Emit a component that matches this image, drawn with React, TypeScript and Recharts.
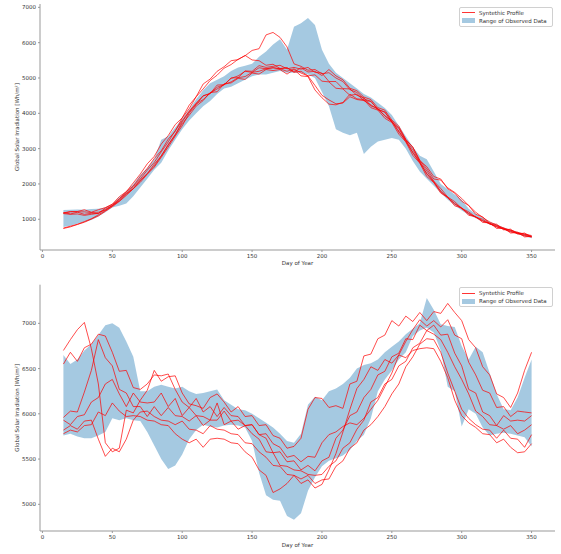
import React from "react";
import { Area, ComposedChart, Legend, Line, XAxis, YAxis } from "recharts";

const FONT = "DejaVu Sans";

const DAYS = [
  15, 20, 25, 30, 35, 40, 45, 50, 55, 60, 65, 70, 75, 80, 85, 90, 95, 100, 105, 110,
  115, 120, 125, 130, 135, 140, 145, 150, 155, 160, 165, 170, 175, 180, 185, 190, 195, 200, 205, 210,
  215, 220, 225, 230, 235, 240, 245, 250, 255, 260, 265, 270, 275, 280, 285, 290, 295, 300, 305, 310,
  315, 320, 325, 330, 335, 340, 345, 350,
];
const X_TICKS = [0, 50, 100, 150, 200, 250, 300, 350];

// top panel: observed min / max
const TOP_LO = [
  780, 820, 870, 920, 980, 1080, 1200, 1330, 1380, 1450, 1650, 1900, 2150, 2400, 2600, 2950, 3250, 3550, 3800, 4000,
  4200, 4350, 4550, 4700, 4750, 4850, 4950, 5050, 5100, 5100, 5150, 5200, 5150, 5150, 5150, 5100, 5000, 4600, 4200, 3550,
  3450, 3380, 3450, 2850, 3050, 3200, 3250, 3300, 3250, 3000, 2650, 2350, 2150, 1950, 1750, 1550, 1400, 1250, 1130, 1030,
  940, 850, 780, 710, 640, 580, 520, 460,
];
const TOP_HI = [
  1260, 1270, 1280, 1270, 1290, 1300, 1330, 1420, 1620, 1780, 2000, 2250, 2450, 2700, 3250, 3350, 3600, 3850, 4100, 4400,
  4650, 4850, 4950, 5050, 5200, 5300, 5350, 5400, 5600, 5750, 5950, 6100, 5800, 6450, 6550, 6700, 6500, 5800, 5400, 5150,
  5000, 4850, 4700, 4550, 4450, 4300, 4150, 3950, 3650, 3350, 3050, 2800, 2700, 2350, 2000, 1850, 1700, 1550, 1300, 1150,
  1040, 930, 850, 770, 700, 640, 580, 540,
];
// top panel: synthetic profiles
const TOP_S1 = [
  1170, 1210, 1220, 1270, 1200, 1270, 1330, 1420, 1580, 1790, 1940, 2210, 2440, 2720, 2940, 3270, 3490, 3870, 4130, 4470,
  4690, 4930, 5080, 5280, 5380, 5530, 5630, 5780, 5830, 6220, 6290, 6150, 5880, 5400, 5330, 5220, 5240, 5120, 5150, 5000,
  4900, 4670, 4590, 4410, 4340, 4110, 4030, 3770, 3570, 3230, 2970, 2630, 2370, 2080, 1870, 1630, 1500, 1310, 1210, 1060,
  1000, 870, 820, 730, 690, 610, 580, 510,
];
const TOP_S2 = [
  1190, 1150, 1200, 1140, 1170, 1160, 1320, 1430, 1640, 1780, 2030, 2280, 2570, 2780, 3130, 3370, 3680, 3870, 4230, 4470,
  4830, 4970, 5190, 5320, 5490, 5520, 5640, 5510, 5490, 5360, 5390, 5270, 5290, 5170, 5290, 5170, 5190, 5070, 5240, 5060,
  4950, 4710, 4640, 4460, 4390, 4160, 4090, 3810, 3640, 3260, 3040, 2670, 2430, 2140, 2110, 1890, 1760, 1590, 1390, 1200,
  1050, 925, 835, 755, 690, 630, 580, 540,
];
const TOP_S3 = [
  1180, 1220, 1210, 1210, 1190, 1200, 1260, 1380, 1540, 1730, 1870, 2110, 2290, 2560, 2790, 3110, 3390, 3760, 4040, 4270,
  4390, 4570, 4690, 4810, 4890, 5010, 5040, 5160, 5190, 5260, 5290, 5260, 5190, 5260, 5140, 5060, 4790, 4510, 4380, 4270,
  4290, 4470, 4390, 4360, 4240, 4110, 3940, 3760, 3500, 3200, 2900, 2600, 2300, 2050, 1800, 1600, 1450, 1300, 1170, 1060,
  960, 870, 790, 720, 660, 600, 550, 500,
];
const TOP_S4 = [
  1160, 1140, 1150, 1110, 1140, 1170, 1280, 1390, 1570, 1740, 1930, 2140, 2390, 2610, 2910, 3190, 3510, 3790, 4060, 4290,
  4500, 4560, 4800, 4810, 5000, 5010, 5200, 5190, 5350, 5300, 5330, 5360, 5260, 5300, 5250, 5300, 5160, 5140, 4900, 4900,
  4700, 4690, 4510, 4440, 4210, 4140, 3920, 3780, 3470, 3230, 2880, 2620, 2280, 2070, 1780, 1620, 1430, 1320, 1150, 1060,
  950, 880, 780, 730, 640, 600, 530, 500,
];
const TOP_S5 = [
  750, 805, 855, 935, 1015, 1125, 1245, 1385, 1515, 1705, 1865, 2085, 2295, 2505, 2795, 3105, 3395, 3705, 3945, 4205,
  4360, 4590, 4610, 4840, 4860, 4990, 4960, 5140, 5110, 5240, 5210, 5240, 5110, 5240, 5060, 5040, 4660, 4440, 4260, 4240,
  4310, 4540, 4410, 4390, 4160, 4090, 3860, 3740, 3410, 3190, 2810, 2590, 2210, 2040, 1740, 1620, 1380, 1320, 1110, 1080,
  910, 900, 740, 750, 610, 630, 500, 520,
];
const TOP_S6 = [
  740, 785, 855, 915, 1005, 1095, 1225, 1355, 1505, 1675, 1865, 2045, 2275, 2475, 2755, 3045, 3355, 3645, 4005, 4245,
  4490, 4560, 4740, 4810, 4990, 5060, 5190, 5160, 5290, 5260, 5290, 5260, 5290, 5160, 5190, 5060, 5090, 4910, 4890, 4710,
  4690, 4510, 4540, 4360, 4340, 4110, 4040, 3760, 3590, 3260, 3040, 2660, 2490, 2210, 2140, 1860, 1740, 1510, 1390, 1140,
  1070, 870, 860, 700, 720, 580, 610, 500,
];

// bottom panel: observed min / max
const BOT_LO = [
  5760, 5780, 5750, 5730, 5730, 5760, 5800, 5950, 5930, 5950, 5930, 5920, 5800, 5650, 5500, 5390, 5430, 5550, 5720, 5820,
  5880, 5860, 5850, 5870, 5880, 5870, 5850, 5700, 5350, 5100, 5050, 5040, 4870, 4830, 4900, 5150, 5300, 5420, 5480, 5510,
  5540, 5600, 5700, 5770, 5950, 6250, 6380, 6480, 6600, 6680, 6860, 6920, 6950, 6900, 6700, 6300, 6250, 5860, 6050, 6000,
  5850, 5760, 5780, 5790, 5780, 5760, 5740, 5640,
];
const BOT_HI = [
  6650, 6550, 6600, 6700, 6770, 6870, 6980, 7000, 6950, 6800, 6630, 6250, 6250, 6300, 6320, 6300, 6280, 6300, 6250, 6220,
  6230, 6250, 6270, 6150, 6100, 6050, 6040, 6000, 5950, 5900, 5850, 5780, 5700, 5680, 5780, 6100, 6190, 6150, 6250, 6280,
  6330, 6400, 6500, 6540, 6560, 6600, 6680, 6740, 6800, 6880, 6940, 7000, 7280, 7150, 6990, 6970, 6960, 6750, 6600, 6740,
  6680, 6450, 6220, 6050, 6040, 6180, 6400, 6600,
];
// bottom panel: synthetic profiles
const BOT_S1 = [
  6700, 6820, 6930, 7010, 6720, 6330, 5680, 5580, 5620, 6040, 6010, 6150, 6260, 6480, 6360, 6410, 6420, 6230, 6110, 6090,
  6060, 6180, 6220, 6130, 6020, 6080, 5970, 5980, 5870, 5880, 5760, 5730, 5620, 5640, 5730, 6050, 6180, 6170, 6070, 6090,
  6060, 6330, 6360, 6640, 6660, 6830, 6870, 7030, 6970, 7080, 7020, 7120, 7030, 7130, 7110, 7220, 7120, 7030, 6820, 6730,
  6520, 6430, 6220, 6180, 6070, 6230, 6480, 6680,
];
const BOT_S2 = [
  6550, 6680, 6580, 6730, 6770, 6880, 6860, 6680, 6470, 6480, 6290, 6270, 6330, 6430, 6420, 6440, 6270, 6130, 6070, 6170,
  6020, 6080, 5970, 6070, 5980, 5970, 5870, 5880, 5770, 5780, 5670, 5630, 5520, 5540, 5470, 5530, 5520, 5680, 5770, 5800,
  5860, 5900, 5880, 5950, 6050, 6150, 6300, 6450, 6650, 6800, 6930, 7040, 6970, 7030, 6960, 7040, 6870, 6830, 6570, 6430,
  6260, 6230, 6070, 6080, 5970, 6030, 6020, 6010,
];
const BOT_S3 = [
  5960, 6030, 6020, 6240, 6480, 6820, 6620, 6530, 6270, 6230, 6080, 6080, 5970, 6080, 5980, 6070, 5980, 5970, 5920, 5980,
  5870, 5930, 5930, 6030, 5920, 5930, 5870, 5880, 5770, 5730, 5570, 5580, 5470, 5480, 5380, 5430, 5370, 5480, 5520, 5730,
  5820, 5980, 6020, 6180, 6270, 6430, 6470, 6630, 6670, 6830, 6820, 6980, 6920, 6980, 6870, 6880, 6670, 6530, 6270, 6230,
  6020, 5980, 5870, 5980, 5920, 5930, 5920, 5980,
];
const BOT_S4 = [
  5930, 5880, 5970, 5990, 6130, 6180, 6330, 6380, 6220, 6080, 6230, 6130, 6120, 6130, 6230, 6080, 6170, 5980, 6070, 5980,
  5970, 5930, 6120, 5880, 5920, 5830, 5870, 5780, 5720, 5580, 5570, 5430, 5420, 5380, 5370, 5330, 5320, 5330, 5420, 5480,
  5620, 5680, 5830, 5930, 6130, 6180, 6330, 6380, 6530, 6580, 6730, 6780, 6920, 6880, 6820, 6680, 6520, 6380, 6220, 6030,
  5970, 5880, 5870, 5830, 5870, 5780, 5820, 5880,
];
const BOT_S5 = [
  5820, 5870, 5830, 5920, 5930, 5720, 5530, 5620, 5580, 5720, 5930, 6020, 6030, 5970, 5930, 5920, 5880, 5920, 5830, 5820,
  5780, 5870, 5830, 5820, 5780, 5770, 5680, 5670, 5580, 5520, 5430, 5420, 5330, 5320, 5280, 5320, 5230, 5270, 5280, 5420,
  5480, 5620, 5680, 5820, 5880, 5970, 6080, 6220, 6330, 6520, 6630, 6770, 6830, 6820, 6680, 6450, 6250, 6050, 5950, 5880,
  5830, 5820, 5730, 5820, 5730, 5720, 5630, 5770,
];
const BOT_S6 = [
  5780, 5820, 5800, 5870, 5880, 6020, 5980, 6120, 6030, 5970, 5980, 5970, 5930, 5920, 5880, 5870, 5780, 5720, 5680, 5720,
  5630, 5720, 5730, 5720, 5680, 5670, 5580, 5520, 5380, 5320, 5130, 5170, 5230, 5320, 5230, 5270, 5180, 5220, 5380, 5560,
  5800, 6050, 6280, 6380, 6520, 6480, 6600, 6560, 6650, 6620, 6700, 6720, 6730, 6720, 6580, 6400, 6150, 5980, 5900, 5850,
  5780, 5770, 5680, 5720, 5630, 5570, 5580, 5670,
];

const SERIES_KEYS = ["s1", "s2", "s3", "s4", "s5", "s6"];

function buildRows(lo: number[], hi: number[], syn: number[][]) {
  return DAYS.map((day, i) => {
    const row: any = { day, range: [lo[i], hi[i]] };
    syn.forEach((s, k) => {
      row[SERIES_KEYS[k]] = s[i];
    });
    return row;
  });
}

const topRows = buildRows(TOP_LO, TOP_HI, [TOP_S1, TOP_S2, TOP_S3, TOP_S4, TOP_S5, TOP_S6]);
const botRows = buildRows(BOT_LO, BOT_HI, [BOT_S1, BOT_S2, BOT_S3, BOT_S4, BOT_S5, BOT_S6]);

const tickStyle = { fontSize: 5.5, fill: "#333", fontFamily: FONT };
const SPINE = "#999";

const XLabel = ({ viewBox, dy }: any) => (
  <text
    x={viewBox.x + viewBox.width / 2}
    y={viewBox.y + dy}
    textAnchor="middle"
    dominantBaseline="central"
    fontSize={5.5}
    fontFamily={FONT}
    fill="#333"
  >
    Day of Year
  </text>
);

const YLabel = ({ viewBox }: any) => {
  const cy = viewBox.y + viewBox.height / 2;
  return (
    <text
      x={17}
      y={cy}
      transform={`rotate(-90, 17, ${cy})`}
      textAnchor="middle"
      dominantBaseline="central"
      fontSize={5.5}
      fontFamily={FONT}
      fill="#333"
    >
      Global Solar Irradiation [Wh/m²]
    </text>
  );
};

const LegendBox = () => (
  <div
    style={{
      border: "1px solid #d0d0d0",
      borderRadius: 2,
      background: "rgba(255,255,255,0.85)",
      padding: "1px 2px",
      fontFamily: FONT,
      fontSize: 5.5,
      color: "#333",
      lineHeight: "8px",
      boxSizing: "border-box",
      width: 94,
    }}
  >
    <div style={{ display: "flex", alignItems: "center", height: 8 }}>
      <span style={{ width: 13, height: 0, borderTop: "1px solid rgba(255,0,0,0.8)", marginRight: 4 }} />
      Syntethic Profile
    </div>
    <div style={{ display: "flex", alignItems: "center", height: 8 }}>
      <span style={{ width: 13, height: 4.5, background: "rgba(31,119,180,0.4)", marginRight: 4 }} />
      Range of Observed Data
    </div>
  </div>
);

function Panel({
  rows,
  domain,
  ticks,
  marginTop,
  xHeight,
  labelDy,
}: {
  rows: any[];
  domain: [number, number];
  ticks: number[];
  marginTop: number;
  xHeight: number;
  labelDy: number;
}) {
  return (
    <ComposedChart width={561} height={277} data={rows} margin={{ top: marginTop, right: 6, left: 0, bottom: 0 }}>
      <XAxis
        dataKey="day"
        type="number"
        domain={[-1.75, 366.75]}
        ticks={X_TICKS}
        allowDataOverflow
        height={xHeight}
        tick={tickStyle}
        tickSize={2}
        tickMargin={2}
        stroke={SPINE}
        label={<XLabel dy={labelDy} />}
      />
      <XAxis
        xAxisId="top"
        orientation="top"
        type="number"
        domain={[-1.75, 366.75]}
        height={0}
        tick={false}
        tickLine={false}
        stroke={SPINE}
      />
      <YAxis
        type="number"
        domain={domain}
        ticks={ticks}
        allowDataOverflow
        width={40}
        tick={tickStyle}
        tickSize={2}
        tickMargin={2}
        stroke={SPINE}
        label={<YLabel />}
      />
      <YAxis
        yAxisId="right"
        orientation="right"
        type="number"
        domain={domain}
        width={0}
        tick={false}
        tickLine={false}
        stroke={SPINE}
      />
      <Area
        type="linear"
        dataKey="range"
        fill="#1f77b4"
        fillOpacity={0.4}
        stroke="none"
        isAnimationActive={false}
        legendType="none"
      />
      {SERIES_KEYS.map((k) => (
        <Line
          key={k}
          type="linear"
          dataKey={k}
          stroke="#ff0000"
          strokeOpacity={0.7}
          strokeWidth={1}
          dot={false}
          activeDot={false}
          isAnimationActive={false}
        />
      ))}
      <Legend
        layout="vertical"
        align="center"
        verticalAlign="middle"
        content={<LegendBox />}
        wrapperStyle={{ left: 459, top: marginTop + 2.7, width: 94, height: 20 }}
      />
    </ComposedChart>
  );
}

export default function App() {
  return (
    <div style={{ position: "absolute", left: 0, top: 0, width: 561, height: 554, background: "#fff" }}>
      <Panel
        rows={topRows}
        domain={[130, 7095]}
        ticks={[1000, 2000, 3000, 4000, 5000, 6000, 7000]}
        marginTop={4}
        xHeight={27}
        labelDy={13.3}
      />
      <Panel
        rows={botRows}
        domain={[4705, 7427]}
        ticks={[5000, 5500, 6000, 6500, 7000]}
        marginTop={7.7}
        xHeight={23}
        labelDy={14}
      />
    </div>
  );
}
